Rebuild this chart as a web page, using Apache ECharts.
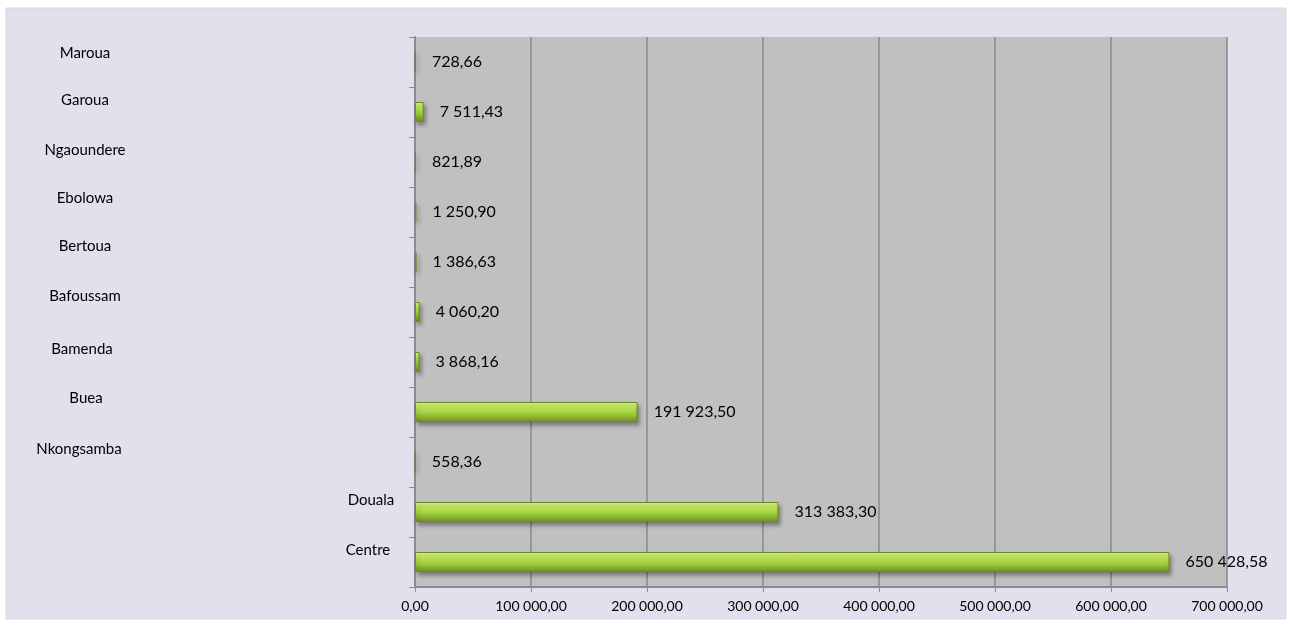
<!DOCTYPE html>
<html>
<head>
<meta charset="utf-8">
<script src="https://cdn.jsdelivr.net/npm/echarts@6/dist/echarts.min.js"></script>
<style>
  html, body { margin: 0; padding: 0; background: #ffffff; }
  #main { width: 1292px; height: 627px; }
</style>
</head>
<body>
<div id="main"></div>
<script>
// categories bottom -> top
var villes = ['Centre', 'Douala', 'Nkongsamba', 'Buea', 'Bamenda', 'Bafoussam', 'Bertoua', 'Ebolowa', 'Ngaoundere', 'Garoua', 'Maroua'];
var montants = [650428.58, 313383.30, 558.36, 191923.50, 3868.16, 4060.20, 1386.63, 1250.90, 821.89, 7511.43, 728.66];
var xTicks = [0, 100000, 200000, 300000, 400000, 500000, 600000, 700000];
// horizontal centre of each category label (label positions in the original are shifted)
var labelCentreX = [368, 371, 79, 86, 82, 85, 85, 85, 85, 85, 85];
var labelLift = [12, 12, 13, 14, 13, 16, 16, 14, 12, 12, 9];

function frNum(v) {
    var s = v.toFixed(2).split('.');
    var ent = s[0].replace(/\B(?=(\d{3})+(?!\d))/g, ' ');
    return ent + ',' + s[1];
}

var police = 'Lato, "Noto Sans", sans-serif';
var axisX = 415;
var rich = {};
villes.forEach(function (v, i) {
    var w = 2 * (axisX - 8 - labelCentreX[i]);
    rich['c' + i] = {
        width: w,
        align: 'center',
        padding: [0, 0, labelLift[i] * 2, 0],
        fontSize: 15,
        color: '#000',
        fontFamily: police
    };
});

var myChart = echarts.init(document.getElementById('main'));

myChart.setOption({
    animation: false,
    backgroundColor: 'transparent',
    graphic: [{
        type: 'rect',
        z: -10,
        shape: { x: 6, y: 8, width: 1280, height: 611 },
        style: { fill: '#e4dfec', stroke: '#d9d4e0', lineWidth: 1 }
    }],
    grid: { left: 415, right: 65, top: 37, bottom: 40, show: true, backgroundColor: '#c0c0c0', borderWidth: 0 },
    xAxis: {
        type: 'value',
        min: 0,
        max: 700000,
        interval: 100000,
        axisLine: { show: true, lineStyle: { color: '#8c8c8c', width: 2 } },
        axisTick: { show: true, length: 5, lineStyle: { color: '#8c8c8c', width: 1 } },
        axisLabel: {
            margin: 12,
            fontSize: 14,
            color: '#000',
            fontFamily: police,
            formatter: function (v) { return frNum(v); }
        },
        splitLine: { show: true, lineStyle: { color: '#8a8a8a', width: 1.5 } }
    },
    yAxis: {
        type: 'category',
        data: villes,
        axisLine: { show: true, lineStyle: { color: '#8c8c8c', width: 2 } },
        axisTick: { show: true, length: 6, lineStyle: { color: '#8c8c8c' } },
        axisLabel: {
            margin: 8,
            interval: 0,
            formatter: function (v) {
                var i = villes.indexOf(v);
                return '{c' + i + '|' + v + '}';
            },
            rich: rich
        }
    },
    series: [{
        type: 'bar',
        data: montants,
        barWidth: 20,
        itemStyle: {
            color: new echarts.graphic.LinearGradient(0, 0, 0, 1, [
                { offset: 0, color: '#dcf78e' },
                { offset: 0.3, color: '#bde655' },
                { offset: 0.6, color: '#9ccb3c' },
                { offset: 1, color: '#6f8f24' }
            ]),
            borderColor: '#6b8a22',
            borderWidth: 1,
            shadowColor: 'rgba(0,0,0,0.35)',
            shadowBlur: 4,
            shadowOffsetX: 2,
            shadowOffsetY: 3
        },
        label: {
            show: true,
            position: 'right',
            distance: 16,
            fontSize: 16,
            color: '#000',
            fontFamily: police,
            formatter: function (p) { return frNum(p.value); }
        }
    }]
});
</script>
</body>
</html>
